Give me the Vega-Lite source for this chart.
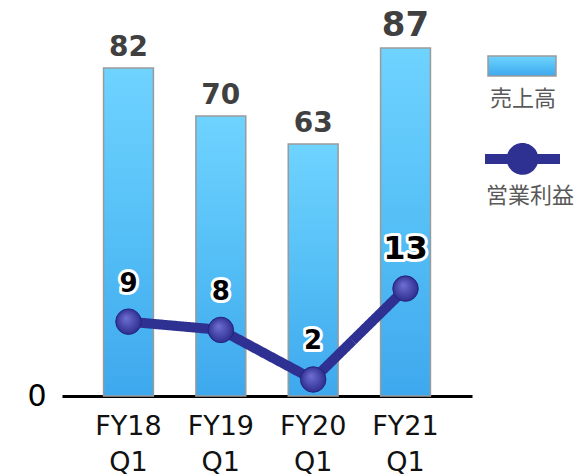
{
  "$schema": "https://vega.github.io/schema/vega-lite/v6.json",
  "width": 410,
  "height": 380,
  "autosize": "none",
  "padding": {"left": 62, "top": 16, "right": 103, "bottom": 80},
  "background": "white",
  "config": {"view": {"stroke": null}},
  "data": {
    "values": [
      {"q": "FY18 Q1", "sales": 82, "profit": 9},
      {"q": "FY19 Q1", "sales": 70, "profit": 8},
      {"q": "FY20 Q1", "sales": 63, "profit": 2},
      {"q": "FY21 Q1", "sales": 87, "profit": 13}
    ]
  },
  "encoding": {
    "x": {
      "field": "q",
      "type": "nominal",
      "sort": null,
      "scale": {"paddingInner": 0.46, "paddingOuter": 0.45},
      "axis": {
        "title": null,
        "labelExpr": "split(datum.label, ' ')",
        "labelAngle": 0,
        "labelFont": "DejaVu Sans",
        "labelFontSize": 27,
        "labelColor": "#111111",
        "labelLineHeight": 36,
        "labelPadding": 17,
        "ticks": false,
        "domainColor": "#000000",
        "domainWidth": 3,
        "zindex": 0
      }
    }
  },
  "layer": [
    {
      "layer": [
        {
          "mark": {
            "type": "bar",
            "fill": {
              "gradient": "linear",
              "x1": 0, "y1": 0, "x2": 0, "y2": 1,
              "stops": [
                {"offset": 0, "color": "#6fd3ff"},
                {"offset": 0.5, "color": "#55bff6"},
                {"offset": 1, "color": "#3ea8ee"}
              ]
            },
            "stroke": "#9a9a9a",
            "strokeWidth": 1.5
          },
          "encoding": {
            "y": {
              "field": "sales",
              "type": "quantitative",
              "scale": {"domain": [0, 95], "nice": false},
              "axis": {
                "values": [0],
                "title": null,
                "domain": false,
                "ticks": false,
                "grid": false,
                "labelFont": "DejaVu Sans",
                "labelFontSize": 30,
                "labelColor": "#000000",
                "labelPadding": 16
              }
            },
            "opacity": {
              "datum": "売上高",
              "type": "nominal",
              "scale": {"range": [1]},
              "legend": {
                "title": "売上高",
                "orient": "none",
                "legendX": 425,
                "legendY": -9,
                "padding": 0,
                "titleOrient": "bottom",
                "titleAnchor": "middle",
                "titleFont": "Noto Sans CJK JP",
                "titleFontSize": 22,
                "titleFontWeight": "normal",
                "titleColor": "#595959",
                "titlePadding": 10,
                "labelExpr": "''",
                "labelOffset": 0,
                "symbolType": "M-1,0.41H1V1H-1Z",
                "symbolSize": 4624
              }
            }
          }
        },
        {
          "mark": {
            "type": "text",
            "font": "DejaVu Sans",
            "fontWeight": "bold",
            "color": "#404040",
            "baseline": "alphabetic",
            "dy": -12
          },
          "encoding": {
            "y": {"field": "sales", "type": "quantitative"},
            "text": {"field": "sales", "type": "quantitative"},
            "size": {"condition": {"test": "datum.sales == 87", "value": 34}, "value": 28}
          }
        }
      ]
    },
    {
      "layer": [
        {
          "mark": {"type": "line", "stroke": "#2E3192", "strokeWidth": 10},
          "encoding": {
            "y": {
              "field": "profit",
              "type": "quantitative",
              "scale": {"domain": [0, 46], "nice": false},
              "axis": null
            },
            "strokeDash": {
              "datum": "営業利益",
              "type": "nominal",
              "scale": {"range": [[1, 0]]},
              "legend": {
                "title": "営業利益",
                "orient": "none",
                "legendX": 418,
                "legendY": 79,
                "padding": 0,
                "titleOrient": "bottom",
                "titleAnchor": "middle",
                "titleFont": "Noto Sans CJK JP",
                "titleFontSize": 22,
                "titleFontWeight": "normal",
                "titleColor": "#595959",
                "titlePadding": -4,
                "labelExpr": "''",
                "labelOffset": 0,
                "symbolType": "M-1,0.57H1M-0.29,0.57A0.29,0.29,0,1,1,0.29,0.57A0.29,0.29,0,1,1,-0.29,0.57Z",
                "symbolSize": 5625,
                "symbolStrokeWidth": 10,
                "symbolFillColor": "#2E3192",
                "symbolStrokeColor": "#2E3192"
              }
            }
          }
        },
        {
          "mark": {
            "type": "point",
            "filled": true,
            "opacity": 1,
            "size": 650,
            "fill": {
              "gradient": "radial",
              "x1": 0.4, "y1": 0.35, "r1": 0,
              "x2": 0.5, "y2": 0.5, "r2": 0.55,
              "stops": [
                {"offset": 0, "color": "#7070d4"},
                {"offset": 1, "color": "#28298a"}
              ]
            },
            "stroke": "#23257a",
            "strokeWidth": 1
          },
          "encoding": {
            "y": {"field": "profit", "type": "quantitative"}
          }
        },
        {
          "mark": {
            "type": "text",
            "font": "DejaVu Sans",
            "fontWeight": "bold",
            "fill": "#000000",
            "stroke": "#ffffff",
            "strokeWidth": 6,
            "strokeJoin": "round",
            "baseline": "alphabetic",
            "dy": -30
          },
          "encoding": {
            "y": {"field": "profit", "type": "quantitative"},
            "text": {"field": "profit", "type": "quantitative"},
            "size": {"condition": {"test": "datum.profit == 13", "value": 32}, "value": 26}
          }
        },
        {
          "mark": {
            "type": "text",
            "font": "DejaVu Sans",
            "fontWeight": "bold",
            "fill": "#000000",
            "baseline": "alphabetic",
            "dy": -30
          },
          "encoding": {
            "y": {"field": "profit", "type": "quantitative"},
            "text": {"field": "profit", "type": "quantitative"},
            "size": {"condition": {"test": "datum.profit == 13", "value": 32}, "value": 26}
          }
        }
      ]
    }
  ],
  "resolve": {"scale": {"y": "independent"}}
}
